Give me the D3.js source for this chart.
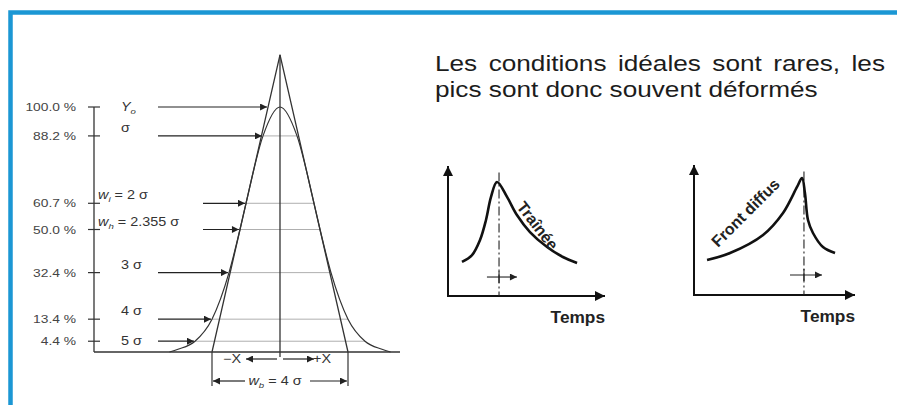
<!DOCTYPE html>
<html>
<head>
<meta charset="utf-8">
<script src="https://cdn.jsdelivr.net/npm/d3@7"></script>
<style>
  body { margin: 0; background: #fff; }
  svg { display: block; font-family: "Liberation Sans", Arial, sans-serif; }
</style>
</head>
<body>
<script>
// ideal gaussian peak: half width (in sigma) vs height (%)
var peakSigma = [0, 0.5, 1, 1.1775, 1.5, 2, 2.5, 3, 3.25];
var peakPct   = [100, 88.2, 60.7, 50.0, 32.4, 13.4, 4.4, 1.1, 0];

// levels marked on the left scale
var levelPct   = [100, 88.2, 60.7, 50.0, 32.4, 13.4, 4.4];
var levelHalf  = [null, 0.5, 1, 1.1775, 1.5, 2, 2.5];
var levelTick  = ["100.0 %", "88.2 %", "60.7 %", "50.0 %", "32.4 %", "13.4 %", "4.4 %"];
var levelName  = [["Y", "o", ""], ["σ"], ["w", "i", " = 2 σ"], ["w", "h", " = 2.355 σ"], ["3 σ"], ["4 σ"], ["5 σ"]];
var levelShort = [false, false, true, true, false, false, false];

// tangent triangle: base at +-2 sigma, apex height 2*e^-0.5
var tangentBase = 2, tangentApex = 121.3;

// deformed peaks (arbitrary units 0..10)
var tailX  = [0.89, 1.53, 2.04, 2.42, 2.74, 3.12, 3.76, 4.39, 5.22, 6.31, 7.32, 8.22];
var tailY  = [2.62, 3.15, 4.31, 5.85, 7.62, 8.77, 7.62, 6.23, 4.92, 3.77, 3.00, 2.54];
var tailTop = 3.25;
var frontX = [0.81, 2.24, 4.29, 5.53, 6.40, 6.71, 6.89, 7.08, 7.39, 8.01, 8.76];
var frontY = [2.69, 3.23, 4.62, 6.31, 8.31, 9.00, 7.85, 5.77, 4.77, 3.69, 3.23];
var frontTop = 6.83;

var title = ["Les conditions idéales sont rares, les", "pics sont donc souvent déformés"];

var W = 897, H = 405;
var ink = "#333", grey = "#9a9a9a";

var svg = d3.select("body").append("svg").attr("width", W).attr("height", H);

var defs = svg.append("defs");
function marker(id, w, h, color) {
  defs.append("marker").attr("id", id)
      .attr("markerUnits", "userSpaceOnUse")
      .attr("viewBox", "0 -5 10 10")
      .attr("refX", 10).attr("refY", 0)
      .attr("markerWidth", w).attr("markerHeight", h)
      .attr("orient", "auto")
    .append("path").attr("d", "M0,-5L10,0L0,5Z").attr("fill", color);
}
marker("arr", 8, 7, "#222");
marker("big", 12, 10, "#111");

// frame
svg.append("rect").attr("x", 10.5).attr("y", 12.5).attr("width", 1000).attr("height", 500)
   .attr("fill", "none").attr("stroke", "#1b97d4").attr("stroke-width", 4.5);

// stretched text helper (source picture is stretched horizontally)
function label(g, x, y, anchor, size, sx) {
  return g.append("text")
      .attr("transform", "translate(" + x + "," + y + ") scale(" + sx + ",1)")
      .attr("text-anchor", anchor)
      .attr("font-size", size);
}

// ---------- ideal peak ----------
var xG = d3.scaleLinear().domain([-1, 1]).range([246, 314]);
var yP = d3.scaleLinear().domain([0, 100]).range([352, 107]);
var g = svg.append("g");

// vertical scale and baseline
g.append("line").attr("x1", 94).attr("x2", 94).attr("y1", yP(100)).attr("y2", yP(0))
  .attr("stroke", ink).attr("stroke-width", 1.3);
g.append("line").attr("x1", 94).attr("x2", 400).attr("y1", yP(0)).attr("y2", yP(0))
  .attr("stroke", ink).attr("stroke-width", 1.3);

levelPct.forEach(function(p, i) {
  var y = yP(p);
  g.append("line").attr("x1", 88).attr("x2", 100).attr("y1", y).attr("y2", y)
    .attr("stroke", ink).attr("stroke-width", 1.2);
  label(g, 76, y + 4, "end", 11.5, 1.2).attr("fill", "#444").text(levelTick[i]);

  // level line across the peak
  var tip;
  if (levelHalf[i] === null) {
    tip = xG(-tangentBase * (1 - p / tangentApex));
  } else {
    tip = xG(-levelHalf[i]);
    g.append("line").attr("x1", tip).attr("x2", xG(levelHalf[i])).attr("y1", y).attr("y2", y)
      .attr("stroke", grey).attr("stroke-width", 0.8);
  }
  var x0 = levelShort[i] ? 203 : 158;
  g.append("line").attr("x1", x0).attr("x2", tip - 1).attr("y1", y).attr("y2", y)
    .attr("stroke", "#222").attr("stroke-width", 1.2).attr("marker-end", "url(#arr)");

  var nm = levelName[i];
  var t = label(g, levelShort[i] ? 98 : 121, i === 0 || i === 6 ? y + 4 : y - 4, "start", 12, 1.2)
    .attr("fill", "#333");
  t.append("tspan").attr("font-style", nm.length > 1 ? "italic" : null).text(nm[0]);
  if (nm.length > 1) {
    t.append("tspan").attr("font-size", 8).attr("dy", 3).attr("font-style", "italic").text(nm[1]);
    t.append("tspan").attr("dy", -3).text(nm[2]);
  }
});

// gaussian curve (mirrored)
var gauss = peakSigma.map(function(s, i) { return [-s, peakPct[i]]; }).reverse()
  .concat(peakSigma.slice(1).map(function(s, i) { return [s, peakPct[i + 1]]; }));
g.append("path").datum(gauss)
  .attr("d", d3.line().x(function(d) { return xG(d[0]); }).y(function(d) { return yP(d[1]); })
    .curve(d3.curveMonotoneX))
  .attr("fill", "none").attr("stroke", ink).attr("stroke-width", 1.2);

// tangent triangle
g.append("path")
  .attr("d", d3.line()([[xG(-tangentBase), yP(0)], [xG(0), yP(tangentApex)], [xG(tangentBase), yP(0)]]))
  .attr("fill", "none").attr("stroke", ink).attr("stroke-width", 1.3);
g.append("line").attr("x1", xG(0)).attr("x2", xG(0)).attr("y1", yP(tangentApex)).attr("y2", 357)
  .attr("stroke", ink).attr("stroke-width", 1.3);

// +-X
g.append("line").attr("x1", xG(0) - 3).attr("x2", xG(-1)).attr("y1", 359).attr("y2", 359)
  .attr("stroke", "#222").attr("stroke-width", 1.2).attr("marker-end", "url(#arr)");
g.append("line").attr("x1", xG(0) + 3).attr("x2", xG(1)).attr("y1", 359).attr("y2", 359)
  .attr("stroke", "#222").attr("stroke-width", 1.2).attr("marker-end", "url(#arr)");
label(g, xG(-1) - 5, 363, "end", 12, 1.2).attr("fill", "#333").text("−X");
label(g, xG(1) - 1, 363, "start", 12, 1.2).attr("fill", "#333").text("+X");

// w_b
[-1, 1].forEach(function(s) {
  g.append("line").attr("x1", xG(s * tangentBase)).attr("x2", xG(s * tangentBase))
    .attr("y1", yP(0)).attr("y2", 386).attr("stroke", ink).attr("stroke-width", 1.2);
});
g.append("line").attr("x1", 245).attr("x2", xG(-tangentBase) + 1).attr("y1", 381).attr("y2", 381)
  .attr("stroke", "#222").attr("stroke-width", 1.2).attr("marker-end", "url(#arr)");
g.append("line").attr("x1", 310).attr("x2", xG(tangentBase) - 1).attr("y1", 381).attr("y2", 381)
  .attr("stroke", "#222").attr("stroke-width", 1.2).attr("marker-end", "url(#arr)");
var wb = label(g, 275, 385, "middle", 12, 1.2).attr("fill", "#333");
wb.append("tspan").attr("font-style", "italic").text("w");
wb.append("tspan").attr("font-size", 8).attr("dy", 3).attr("font-style", "italic").text("b");
wb.append("tspan").attr("dy", -3).text(" = 4 σ");

// ---------- title ----------
var targets = [450, 382];
title.forEach(function(s, i) {
  var sx = 1.19;
  var t = label(svg, 435, 71 + i * 26, "start", 22, sx).attr("fill", "#1c1c1c").text(s);
  if (i === 0) {
    var w = t.node().getComputedTextLength();
    var gaps = s.split(" ").length - 1;
    t.attr("word-spacing", (targets[i] / sx - w) / gaps);
  }
});

// ---------- deformed peaks ----------
function smallChart(x, y, xs, ys, top, arrowY, arrowFrom, arrowTo, name, namePos, nameRot) {
  var c = svg.append("g");
  c.append("line").attr("x1", x(0)).attr("x2", x(0)).attr("y1", y(0) + 1).attr("y2", y(10))
    .attr("stroke", "#111").attr("stroke-width", 2).attr("marker-end", "url(#big)");
  c.append("line").attr("x1", x(0) - 1).attr("x2", x(10)).attr("y1", y(0)).attr("y2", y(0))
    .attr("stroke", "#111").attr("stroke-width", 2).attr("marker-end", "url(#big)");
  c.append("line").attr("x1", x(top)).attr("x2", x(top)).attr("y1", y(9.5)).attr("y2", y(0))
    .attr("stroke", "#222").attr("stroke-width", 1.1).attr("stroke-dasharray", "9,3,2,3");
  c.append("line").attr("x1", x(top)).attr("x2", x(top)).attr("y1", y(arrowY) - 6).attr("y2", y(arrowY) + 6)
    .attr("stroke", "#222").attr("stroke-width", 1.1);
  c.append("line").attr("x1", x(arrowFrom)).attr("x2", x(arrowTo)).attr("y1", y(arrowY)).attr("y2", y(arrowY))
    .attr("stroke", "#222").attr("stroke-width", 1.1).attr("marker-end", "url(#arr)");
  c.append("path").datum(xs.map(function(v, i) { return [v, ys[i]]; }))
    .attr("d", d3.line().x(function(d) { return x(d[0]); }).y(function(d) { return y(d[1]); })
      .curve(d3.curveCatmullRom.alpha(0.5)))
    .attr("fill", "none").attr("stroke", "#111").attr("stroke-width", 2.6);
  c.append("text")
    .attr("transform", "translate(" + namePos[0] + "," + namePos[1] + ") rotate(" + nameRot + ")")
    .attr("font-size", 16).attr("font-weight", "bold").attr("fill", "#222").text(name);
  label(c, x(10), y(0) + 27, "end", 16, 1.08).attr("font-weight", "bold").attr("fill", "#222").text("Temps");
}

var x1 = d3.scaleLinear().domain([0, 10]).range([448, 605]);
var y1 = d3.scaleLinear().domain([0, 10]).range([296, 166]);
smallChart(x1, y1, tailX, tailY, tailTop, 1.46, 2.48, 4.39, "Traînée", [516, 207], 52);

var x2 = d3.scaleLinear().domain([0, 10]).range([694, 855]);
var y2 = d3.scaleLinear().domain([0, 10]).range([295, 165]);
smallChart(x2, y2, frontX, frontY, frontTop, 1.54, 5.96, 7.95, "Front diffus", [718, 248], -45);
</script>
</body>
</html>
